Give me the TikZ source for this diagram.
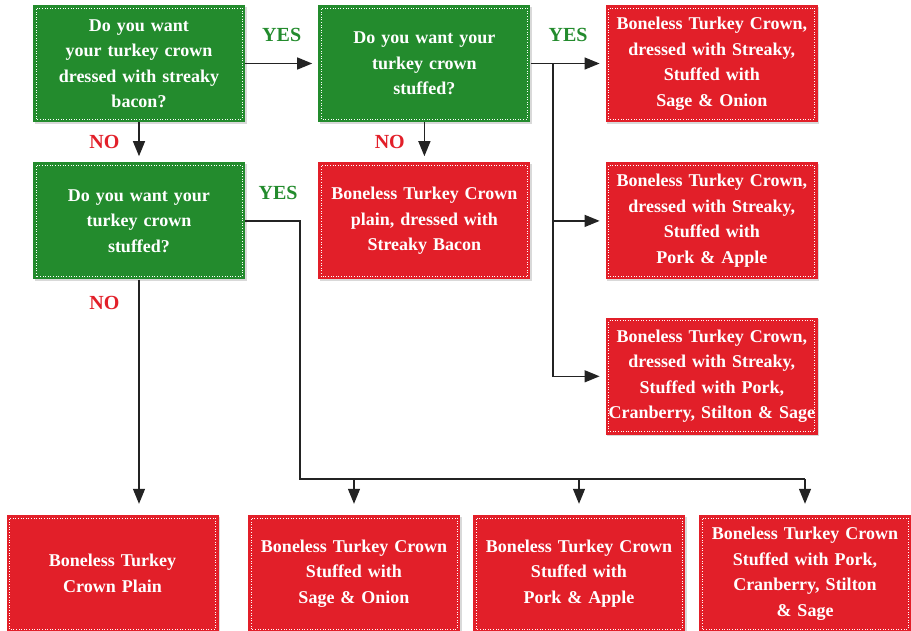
\documentclass[tikz,border=0pt]{standalone}
\usepackage{fontspec}
\setmainfont{Liberation Serif}
\usepackage{tikz}
\usetikzlibrary{arrows.meta,positioning,shadows}

\definecolor{boxgreen}{RGB}{35,139,45}
\definecolor{boxred}{RGB}{226,31,41}
\definecolor{linegray}{RGB}{35,35,35}

\tikzset{
    dotframe/.style={path picture={
        \draw[white, line width=0.9pt, dash pattern=on 0.9pt off 1.7pt]
            ([shift={(3pt,3pt)}]path picture bounding box.south west) rectangle
            ([shift={(-3pt,-3pt)}]path picture bounding box.north east);}},
    box/.style={rectangle, text=white, font=\bfseries\fontsize{18}{25.5}\selectfont,
        text width=208pt, inner sep=2pt, minimum height=117pt, align=center,
        drop shadow={shadow xshift=1.5pt, shadow yshift=-1.5pt, opacity=0.3}, dotframe},
    question/.style={box, fill=boxgreen},
    answer/.style={box, fill=boxred},
    yes/.style={text=boxgreen, font=\bfseries\fontsize{20}{20}\selectfont, inner sep=0pt},
    no/.style={text=boxred, font=\bfseries\fontsize{20}{20}\selectfont, inner sep=0pt},
    link/.style={draw=linegray, line width=1.3pt},
    arrow/.style={link, -{Triangle[length=15pt, width=12pt]}, shorten >=6pt}
}

\begin{document}
\begin{tikzpicture}[x=1pt, y=1pt]

\useasboundingbox (0,0) rectangle (911,-630);

% Questions
\node[question] (q1) at (139,-63.5) {Do you want\\your turkey crown\\dressed with streaky\\bacon?};
\node[question, right=73pt of q1] (q2) {Do you want your\\turkey crown\\stuffed?};
\node[question, below=40pt of q1] (q3) {Do you want your\\turkey crown\\stuffed?};

% Answers with streaky bacon
\node[answer, below=40pt of q2] (plainbacon) {Boneless Turkey Crown\\plain, dressed with\\Streaky Bacon};
\node[answer, right=75pt of q2] (bsage) {Boneless Turkey Crown,\\dressed with Streaky,\\Stuffed with\\Sage \& Onion};
\node[answer, below=40pt of bsage] (bapple) {Boneless Turkey Crown,\\dressed with Streaky,\\Stuffed with\\Pork \& Apple};
\node[answer, below=38pt of bapple] (bpork) {Boneless Turkey Crown,\\dressed with Streaky,\\Stuffed with Pork,\\Cranberry, Stilton \& Sage};

% Answers without bacon
\node[answer] (plain) at (112.5,-573.5) {Boneless Turkey\\Crown Plain};
\node[answer] (sage) at (354,-573.5) {Boneless Turkey Crown\\Stuffed with\\Sage \& Onion};
\node[answer] (apple) at (579,-573.5) {Boneless Turkey Crown\\Stuffed with\\Pork \& Apple};
\node[answer] (pork) at (805,-573.5) {Boneless Turkey Crown\\Stuffed with Pork,\\Cranberry, Stilton\\\& Sage};

% Connectors
\draw[arrow] (q1.east) -- node[yes, above=21pt] {YES} (q2.west);
\draw[arrow] (q1.south) -- node[no, left=19pt] {NO} (q3.north);
\draw[arrow] (q2.south) -- node[no, left=19pt] {NO} (plainbacon.north);
\draw[arrow] (q2.east) -- coordinate[pos=0.3] (split) node[yes, above=21pt] {YES} (bsage.west);
\draw[arrow] (split) |- (bapple.west);
\draw[arrow] (split) |- (bpork.west);
\draw[arrow, shorten >=11pt] (q3.south) -- node[no, pos=0.1, left=19pt] {NO} (q3.south |- plain.north);

\coordinate (bus) at (300,-479);
\draw[link] (q3.east) -| node[yes, pos=0.3, above=21pt] {YES} (bus) -- (bus -| pork.north);
\foreach \n in {sage,apple,pork}
    \draw[arrow, shorten >=11pt] (bus -| \n.north) -- (\n.north);

\end{tikzpicture}
\end{document}
